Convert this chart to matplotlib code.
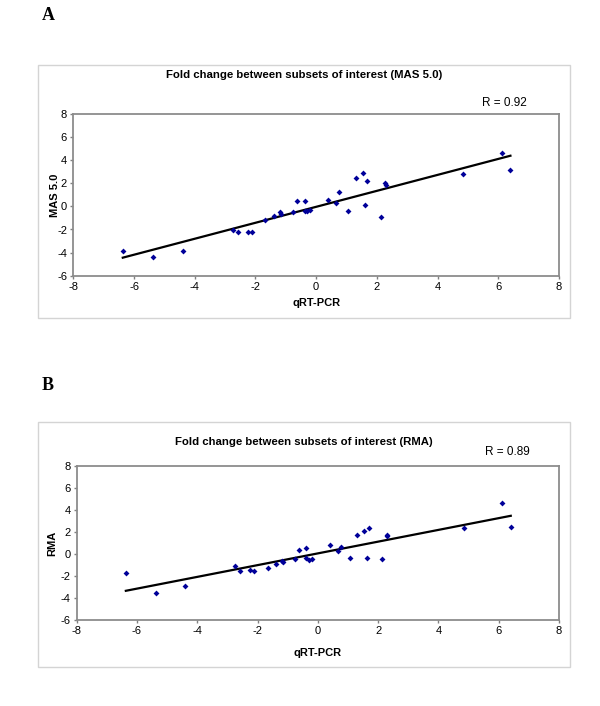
import matplotlib
matplotlib.use('Agg')
import matplotlib.pyplot as plt
from matplotlib.patches import Rectangle
import numpy as np

# qRT-PCR fold changes (same genes in both panels)
qrtPcr = [-6.37, -5.36, -4.40, -2.74, -2.57, -2.25, -2.12, -1.67, -1.39, -1.18,
          -1.17, -0.77, -0.63, -0.38, -0.38, -0.29, -0.20, 0.39, 0.66, 0.76,
          1.06, 1.31, 1.54, 1.62, 1.69, 2.14, 2.28, 2.29, 4.84, 6.12, 6.40]

# microarray fold changes, MAS 5.0
mas5 = [-3.90, -4.40, -3.86, -2.04, -2.25, -2.20, -2.20, -1.15, -0.86, -0.52,
        -0.66, -0.46, 0.47, 0.44, -0.40, -0.40, -0.29, 0.58, 0.32, 1.28,
        -0.37, 2.43, 2.89, 0.15, 2.17, -0.92, 2.00, 1.88, 2.81, 4.65, 3.15]

# microarray fold changes, RMA
rma = [-1.70, -3.52, -2.94, -1.09, -1.58, -1.49, -1.55, -1.24, -0.91, -0.67,
       -0.70, -0.48, 0.39, 0.51, -0.33, -0.55, -0.42, 0.85, 0.27, 0.61,
       -0.33, 1.73, 2.06, -0.33, 2.33, -0.42, 1.73, 1.61, 2.39, 4.64, 2.45]

panelLetters = ['A', 'B']
titles = ['Fold change between subsets of interest (MAS 5.0)',
          'Fold change between subsets of interest (RMA)']
yLabels = ['MAS 5.0', 'RMA']
rTexts = ['R = 0.92', 'R = 0.89']
xTicks = list(range(-8, 9, 2))
yTicks = list(range(-6, 9, 2))

plt.rcParams['font.family'] = ['Liberation Sans', 'DejaVu Sans']
plt.rcParams['axes.unicode_minus'] = False

W, H = 600, 706
fig = plt.figure(figsize=(W / 100, H / 100), dpi=100)


def px(x0, y0, x1, y1):
    # pixel box (top-left origin) -> figure fraction rect
    return [x0 / W, (H - y1) / H, (x1 - x0) / W, (y1 - y0) / H]


# layout per panel: outer frame, axes box, letter y, title y, R pos, ylabel x, xlabel y
frames = [(38, 65, 570, 318), (38, 422, 570, 667)]
axBoxes = [(73.3, 114, 559, 275.7), (76.7, 466, 559, 620)]
letterY = [15, 385]
titleY = [75, 442]
rPos = [(504, 103), (507, 452)]
yLabelX = [55, 52]
xLabelY = [303, 653]

for i, yVals in enumerate([mas5, rma]):
    fx0, fy0, fx1, fy1 = frames[i]
    fig.patches.append(Rectangle((fx0 / W, (H - fy1) / H), (fx1 - fx0) / W, (fy1 - fy0) / H,
                                 transform=fig.transFigure, fill=False,
                                 edgecolor='#d4d4d4', linewidth=1.0))

    fig.text(42 / W, 1 - letterY[i] / H, panelLetters[i], family='Liberation Serif',
             fontweight='bold', fontsize=13, ha='left', va='center')
    fig.text(304 / W, 1 - titleY[i] / H, titles[i], fontweight='bold', fontsize=8.2,
             ha='center', va='center')
    fig.text(rPos[i][0] / W, 1 - rPos[i][1] / H, rTexts[i], fontsize=8.5,
             ha='center', va='center')

    ax = fig.add_axes(px(*axBoxes[i]))
    ax.scatter(qrtPcr, yVals, marker='D', s=9, color='#000099', linewidths=0, zorder=3)

    # linear trend line over the data range
    slope, icpt = np.polyfit(qrtPcr, yVals, 1)
    xs = np.array([min(qrtPcr), max(qrtPcr)])
    ax.plot(xs, slope * xs + icpt, color='black', linewidth=1.6, zorder=2)

    ax.set_xlim(-8, 8)
    ax.set_ylim(-6, 8)
    ax.set_xticks(xTicks)
    ax.set_yticks(yTicks)
    ax.tick_params(direction='out', length=2.5, width=1, color='#808080',
                   labelsize=8, pad=2)
    for s in ax.spines.values():
        s.set_color('#8c8c8c')
        s.set_linewidth(1.3)

    bx0, by0, bx1, by1 = axBoxes[i]
    fig.text(yLabelX[i] / W, 1 - ((by0 + by1) / 2) / H, yLabels[i], fontweight='bold',
             fontsize=8, rotation=90, ha='center', va='center')
    fig.text(((bx0 + bx1) / 2) / W, 1 - xLabelY[i] / H, 'qRT-PCR', fontweight='bold',
             fontsize=8, ha='center', va='center')

fig.savefig('out.png', dpi=100)
plt.close(fig)
